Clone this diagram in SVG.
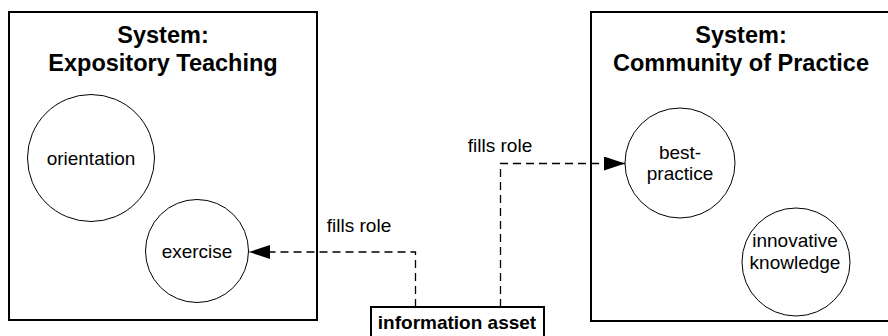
<svg xmlns="http://www.w3.org/2000/svg" width="888" height="336" viewBox="0 0 888 336">
<style>
.sys{fill:#fff;stroke:#000;stroke-width:2}
.role{fill:#fff;stroke:#000;stroke-width:1}
.t{font-family:"Liberation Sans",Arial,sans-serif;font-size:19px;fill:#000;text-anchor:middle}
.tb{font-family:"Liberation Sans",Arial,sans-serif;font-size:23.5px;font-weight:bold;fill:#000;text-anchor:middle}
.b{font-family:"Liberation Sans",Arial,sans-serif;font-size:19px;font-weight:bold;fill:#000;text-anchor:middle}
.c{fill:none;stroke:#000;stroke-width:1.3;stroke-dasharray:8 5}
</style>
<defs>
<marker id="ah" markerWidth="21" markerHeight="14" refX="21" refY="7" orient="auto" markerUnits="userSpaceOnUse">
<path d="M0,0 L21,7 L0,14 Z" fill="#000"/>
</marker>
</defs>
<g id="sys-expository">
<rect class="sys" x="9" y="12" width="308" height="308"/>
<text class="tb" x="163" y="43">System:</text>
<text class="tb" x="163" y="71">Expository Teaching</text>
</g>
<g id="sys-community">
<rect class="sys" x="591" y="12" width="300" height="309"/>
<text class="tb" x="741" y="43">System:</text>
<text class="tb" x="741" y="71">Community of Practice</text>
</g>
<g id="orientation">
<circle class="role" cx="91" cy="158" r="63.5"/>
<text class="t" x="91" y="164.5">orientation</text>
</g>
<g id="exercise">
<circle class="role" cx="197" cy="251" r="51.5"/>
<text class="t" x="197" y="258">exercise</text>
</g>
<g id="best-practice">
<circle class="role" cx="680" cy="163" r="55"/>
<text class="t" x="680" y="159">best-</text>
<text class="t" x="680" y="180">practice</text>
</g>
<g id="innovative-knowledge">
<circle class="role" cx="796" cy="262" r="54"/>
<text class="t" x="795" y="247">innovative</text>
<text class="t" x="795" y="268.5">knowledge</text>
</g>
<g id="information-asset">
<rect class="sys" x="371" y="307" width="173" height="40"/>
<text class="b" x="457" y="329">information asset</text>
</g>
<g id="connectors">
<path class="c" d="M415.5,307 V252 H249" marker-end="url(#ah)"/>
<path class="c" d="M500.5,307 V163.5 H625" marker-end="url(#ah)"/>
<text class="t" x="359" y="232">fills role</text>
<text class="t" x="500" y="152">fills role</text>
</g>
</svg>
